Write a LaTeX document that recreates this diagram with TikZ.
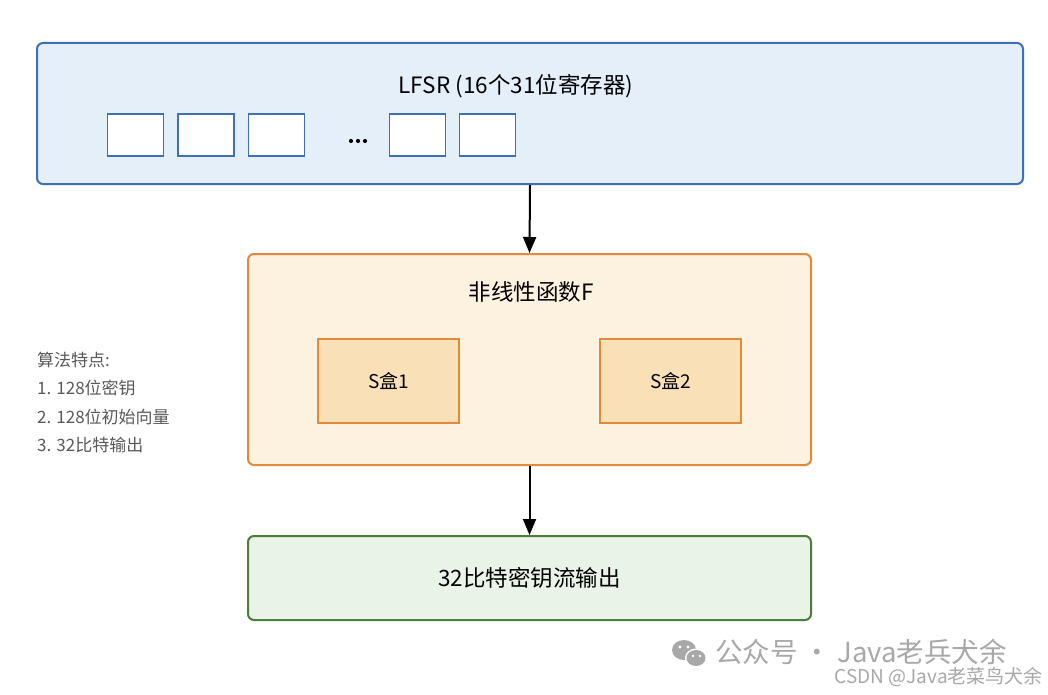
\documentclass[tikz,border=0pt]{standalone}
\usepackage{fontspec}
\setmainfont{Noto Sans CJK SC}
\usetikzlibrary{arrows.meta}
\definecolor{blueB}{HTML}{3F6FB5}
\definecolor{blueF}{HTML}{E4EFFA}
\definecolor{orgB}{HTML}{E38A3A}
\definecolor{orgF}{HTML}{FDF1DF}
\definecolor{sboxF}{HTML}{F9E0B7}
\definecolor{grnB}{HTML}{4C7D3B}
\definecolor{grnF}{HTML}{EAF3E7}
\definecolor{noteC}{HTML}{595959}
\definecolor{wmC}{HTML}{A8A8A8}
\begin{document}
\begin{tikzpicture}[x=1pt,y=-1pt,
  bigbox/.style={draw, line width=2pt, rounded corners=6pt},
  reg/.style={draw=blueB, fill=white, line width=1.2pt, minimum width=56pt, minimum height=42pt, inner sep=0pt},
  sbox/.style={draw=orgB, fill=sboxF, line width=1.2pt, minimum width=141pt, minimum height=84pt, inner sep=0pt, font=\fontsize{19}{22}\selectfont},
  title/.style={font=\fontsize{22.5}{26}\selectfont, text=black},
  note/.style={font=\fontsize{17}{20}\selectfont, text=noteC, anchor=west, inner sep=0pt},
  arr/.style={-{Triangle[length=16pt,width=13pt]}, line width=2pt, black}
]
\useasboundingbox[fill=white] (0,0) rectangle (1048,695);
% top LFSR box
\node[bigbox, draw=blueB, fill=blueF, minimum width=986pt, minimum height=141pt, inner sep=0pt] (lfsr) at (530,113.5) {};
\node[title] (lfsrt) at (516,86) {LFSR (16个31位寄存器)};
\node[reg] (r1) at (135.5,135) {};
\node[reg] (r2) at (206,135) {};
\node[reg] (r3) at (276.5,135) {};
\node[inner sep=0pt, minimum width=20pt, minimum height=6pt] (dots) at (358,141) {};
\foreach \dx in {-7,0,7} \fill[black] ([xshift=\dx pt]dots.center) circle (2.1pt);
\node[reg] (r4) at (417.5,135) {};
\node[reg] (r5) at (487.5,135) {};
% middle F box
\node[bigbox, draw=orgB, fill=orgF, minimum width=563pt, minimum height=211pt, inner sep=0pt] (F) at (529.5,359.5) {};
\node[title] (Ft) at (531,292) {非线性函数F};
\node[sbox] (s1) at (388.5,381) {S盒1};
\node[sbox] (s2) at (670.5,381) {S盒2};
% bottom output box
\node[bigbox, draw=grnB, fill=grnF, minimum width=563pt, minimum height=84pt, inner sep=0pt, font=\fontsize{22.5}{26}\selectfont] (out) at (529.5,578) {32比特密钥流输出};
% arrows
\draw[arr] (lfsr.south) -- (F.north);
\draw[arr] (F.south) -- (out.north);
% notes
\node[note] (n0) at (37,360) {算法特点:};
\node[note] (n1) at (37,388) {1. 128位密钥};
\node[note] (n2) at (37,417) {2. 128位初始向量};
\node[note] (n3) at (37,445) {3. 32比特输出};
% watermark
\fill[wmC] (684,650) ellipse (12pt and 10pt);
\fill[white] (696,658) ellipse (11pt and 9.5pt);
\fill[wmC] (696,658) ellipse (9.5pt and 8pt);
\fill[white] (680,647) circle (1.6pt) (688,647) circle (1.6pt) (693,656) circle (1.3pt) (700,656) circle (1.3pt);
\node[font=\fontsize{27.5}{31}\selectfont, text=wmC, anchor=west, inner sep=0pt] (wm1) at (715,652) {公众号 · Java老兵犬余};
\node[font=\fontsize{19}{22}\selectfont, text=wmC, anchor=east, inner sep=0pt] (wm2) at (1043,677) {CSDN @Java老菜鸟犬余};
\end{tikzpicture}
\end{document}
